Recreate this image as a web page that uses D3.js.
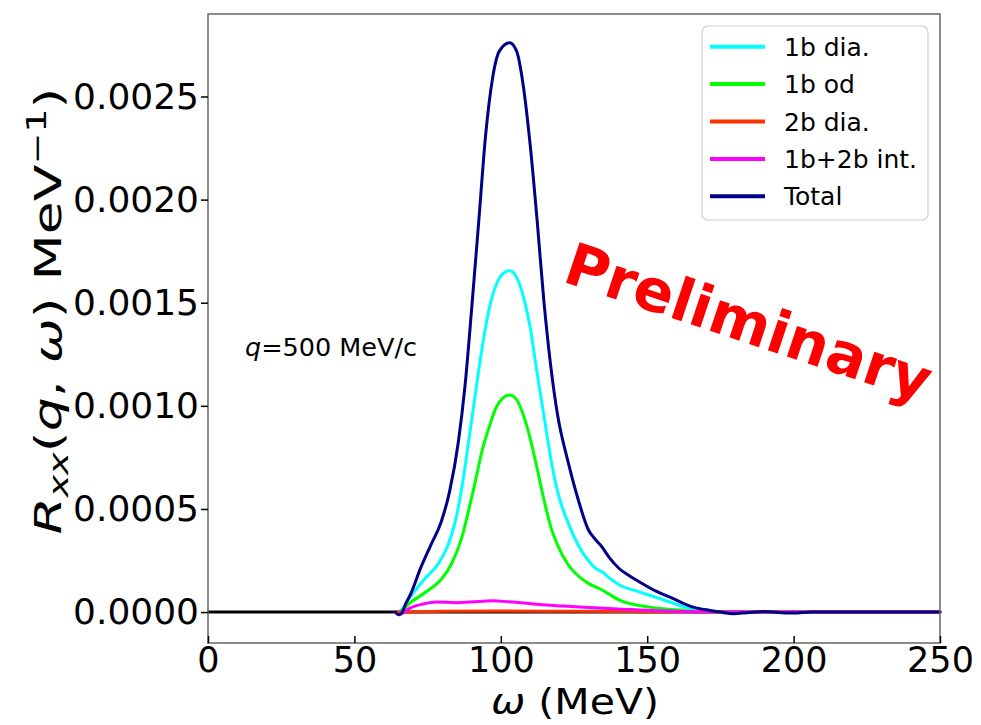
<!DOCTYPE html>
<html>
<head>
<meta charset="utf-8">
<script src="https://cdn.jsdelivr.net/npm/d3@7"></script>
<style>
  html, body { margin: 0; padding: 0; background: #fff; }
  svg { display: block; }
  text { font-family: "DejaVu Sans", sans-serif; fill: #000; }
</style>
</head>
<body>
<svg id="chart" width="981" height="725"></svg>
<script>
// ---------------- data ----------------
const xTicks = [0, 50, 100, 150, 200, 250];
const yTicks = [0, 0.0005, 0.0010, 0.0015, 0.0020, 0.0025];
const xDomain = [0, 250];
const yDomain = [-0.00015, 0.0029];

const seriesNames = ["1b dia.", "1b od", "2b dia.", "1b+2b int.", "Total"];
const seriesColors = ["#00ffff", "#00ff00", "#ff3300", "#ff00ff", "#000088"];

const omegaBaseline = [0, 250];
const rBaseline = [0, 0];

const omega1bDia = [64, 65, 69.1, 73.8, 78.5, 82.0, 84.4, 86.7, 89.0, 91.4, 93.7, 96.1, 98.4, 100.8, 103.0, 105.4, 107.7, 110.0, 112.4, 114.7, 117.0, 119.4, 122.9, 126.4, 129.9, 132.3, 134.6, 137.5, 140.7, 147.5, 154.3, 161.2, 166.9, 171, 250];
const r1bDia = [0, 0, 0.000074, 0.000158, 0.000232, 0.000325, 0.000436, 0.000603, 0.000825, 0.001067, 0.001289, 0.001475, 0.001586, 0.001642, 0.001655, 0.001623, 0.00153, 0.001382, 0.001159, 0.000955, 0.000751, 0.000584, 0.000436, 0.000325, 0.00025, 0.000213, 0.000195, 0.00016, 0.00013, 0.000097, 0.000065, 0.000032, 0.000008, 0, 0];

const omega1bOd = [64, 65, 69.1, 74.9, 79.6, 83.1, 86.7, 89.0, 91.4, 93.7, 96.1, 98.4, 100.8, 103.0, 105.4, 107.7, 110.0, 112.4, 114.7, 117.0, 119.4, 122.9, 126.4, 129.9, 134.0, 140.7, 150.9, 162.3, 170, 250];
const r1bOd = [0, 0, 0.000046, 0.000102, 0.000158, 0.000232, 0.000362, 0.000492, 0.00064, 0.000788, 0.0009, 0.000992, 0.001039, 0.001052, 0.00103, 0.000955, 0.000844, 0.000696, 0.000547, 0.000417, 0.000325, 0.000232, 0.000176, 0.000139, 0.000112, 0.000057, 0.000024, 0.000008, 0, 0];

const omega2bDia = [64, 66, 80, 100, 120, 150, 180, 250];
const r2bDia = [0, 0, 0.000004, 0.000005, 0.000004, 0.000002, 0, 0];

const omegaInt = [64, 65, 66, 69.0, 73.5, 78.1, 84.9, 89.5, 97.4, 99.7, 104.3, 111.1, 120.2, 127, 143, 165.6, 175, 250];
const rInt = [0, -0.000013, -0.000008, 0.0000195, 0.000039, 0.0000486, 0.0000454, 0.0000486, 0.0000551, 0.000053, 0.0000486, 0.0000389, 0.00003, 0.000024, 0.000013, 0.0000016, 0, 0];

const omegaTotal = [64, 65, 66, 67.5, 69.1, 72.6, 76.1, 79.6, 82.5, 85.5, 87.8, 90.1, 92.5, 94.8, 97.2, 99.5, 103.0, 105.4, 107.7, 110.0, 112.4, 114.7, 117.0, 119.4, 122.9, 126.4, 129.9, 132.3, 134.6, 137, 140.5, 144, 147.5, 153.2, 158.9, 165.7, 171.4, 175, 179.4, 184, 189.7, 195, 200, 206, 250];
const rTotal = [0, -0.000012, -0.000008, 0.00004, 0.000084, 0.000213, 0.000325, 0.000436, 0.000584, 0.000825, 0.00110, 0.00148, 0.00190, 0.00231, 0.00259, 0.00272, 0.00276, 0.00272, 0.00255, 0.00227, 0.00190, 0.00151, 0.00120, 0.000955, 0.000733, 0.000547, 0.000399, 0.000352, 0.000315, 0.000265, 0.00021, 0.000175, 0.000145, 0.0001, 0.000065, 0.000024, 0.000008, 0, -0.000008, -0.000003, 0.000003, -0.000002, -0.000005, 0, 0];

const seriesOmega = [omega1bDia, omega1bOd, omega2bDia, omegaInt, omegaTotal];
const seriesValues = [r1bDia, r1bOd, r2bDia, rInt, rTotal];

// ---------------- layout ----------------
const L = 208, R = 940, T = 14, B = 643;
const svg = d3.select("#chart");

const x = d3.scaleLinear().domain(xDomain).range([L, R]);
const y = d3.scaleLinear().domain(yDomain).range([B, T]);

const line = d3.line()
  .x(d => x(d[0])).y(d => y(d[1]))
  .curve(d3.curveMonotoneX);

// baseline (black)
svg.append("path")
  .datum(omegaBaseline.map((w, i) => [w, rBaseline[i]]))
  .attr("d", line).attr("fill", "none")
  .attr("stroke", "#000").attr("stroke-width", 3);

seriesValues.forEach((vals, k) => {
  const pts = seriesOmega[k].map((w, i) => [w, vals[i]]);
  svg.append("path").datum(pts)
    .attr("d", line).attr("fill", "none")
    .attr("stroke", seriesColors[k]).attr("stroke-width", 3)
    .attr("stroke-linejoin", "round").attr("stroke-linecap", "round");
});

// frame
svg.append("rect").attr("x", L).attr("y", T).attr("width", R - L).attr("height", B - T)
  .attr("fill", "none").attr("stroke", "#666").attr("stroke-width", 1.5);

// axes
const yAxis = d3.axisLeft(y).tickValues(yTicks).tickFormat(d3.format(".4f")).tickSize(7).tickPadding(2);
const gy = svg.append("g").attr("transform", `translate(${L},0)`).call(yAxis);
gy.select(".domain").remove();
gy.selectAll("line").attr("stroke", "#000").attr("stroke-width", 1.5);
gy.selectAll("text").attr("font-size", 36).attr("font-family", "DejaVu Sans");

const xAxis = d3.axisBottom(x).tickValues(xTicks).tickFormat(d3.format("d")).tickSize(-7).tickPadding(4);
const gx = svg.append("g").attr("transform", `translate(0,${B})`).call(xAxis);
gx.select(".domain").remove();
gx.selectAll("line").attr("stroke", "#000").attr("stroke-width", 1.5);
gx.selectAll("text").attr("font-size", 35).attr("font-family", "DejaVu Sans");

// x label
const xl = svg.append("text").attr("x", 575).attr("y", 714)
  .attr("text-anchor", "middle").attr("font-size", 36);
xl.append("tspan").attr("font-style", "italic").text("ω");
xl.append("tspan").text(" (MeV)");
xl.attr("textLength", 168).attr("lengthAdjust", "spacingAndGlyphs");

// y label (mathtext-like)
const ylG = svg.append("g");
const yl = ylG.append("text").attr("text-anchor", "middle").attr("font-size", 38);
yl.append("tspan").attr("font-style", "italic").text("R");
yl.append("tspan").attr("font-style", "italic").attr("font-size", 27).attr("dy", 7).text("xx");
yl.append("tspan").attr("dy", -7).text("(");
yl.append("tspan").attr("font-style", "italic").text("q");
yl.append("tspan").text(", ");
yl.append("tspan").attr("font-style", "italic").text("ω");
yl.append("tspan").text(") MeV");
yl.append("tspan").attr("font-size", 27).attr("dy", -15).text("−1");
yl.append("tspan").attr("dy", 15).text(")");
{
  const w = yl.node().getBBox().width;
  const sx = 447 / w;
  ylG.attr("transform", `translate(61,311) rotate(-90) scale(${sx},1)`);
}

// annotation q=500 MeV/c
const qt = svg.append("text").attr("x", 245).attr("y", 356).attr("font-size", 25.5);
qt.append("tspan").attr("font-style", "italic").text("q");
qt.append("tspan").text("=500 MeV/c");

// legend
const lg = svg.append("g");
lg.append("rect").attr("x", 702).attr("y", 26).attr("width", 226).attr("height", 194)
  .attr("rx", 6).attr("fill", "#fff").attr("fill-opacity", 0.8)
  .attr("stroke", "#d0d0d0").attr("stroke-width", 1.2);
seriesNames.forEach((nm, i) => {
  const yy = 46.7 + i * 37.4;
  lg.append("line").attr("x1", 710).attr("x2", 765).attr("y1", yy).attr("y2", yy)
    .attr("stroke", seriesColors[i]).attr("stroke-width", 4);
  lg.append("text").attr("x", 784).attr("y", yy).attr("dy", "0.36em")
    .attr("font-size", 25).text(nm);
});

// Preliminary watermark
const pg = svg.append("g").attr("transform", "translate(561,281) rotate(18.5)");
const pt = pg.append("text").attr("font-family", "'Open Sans', sans-serif")
  .attr("font-weight", 700).attr("font-size", 70).style("fill", "#ff0000").text("Preliminary");
{
  const w = pt.node().getComputedTextLength();
  pt.attr("font-size", 70 * 382 / w);
}
</script>
</body>
</html>
